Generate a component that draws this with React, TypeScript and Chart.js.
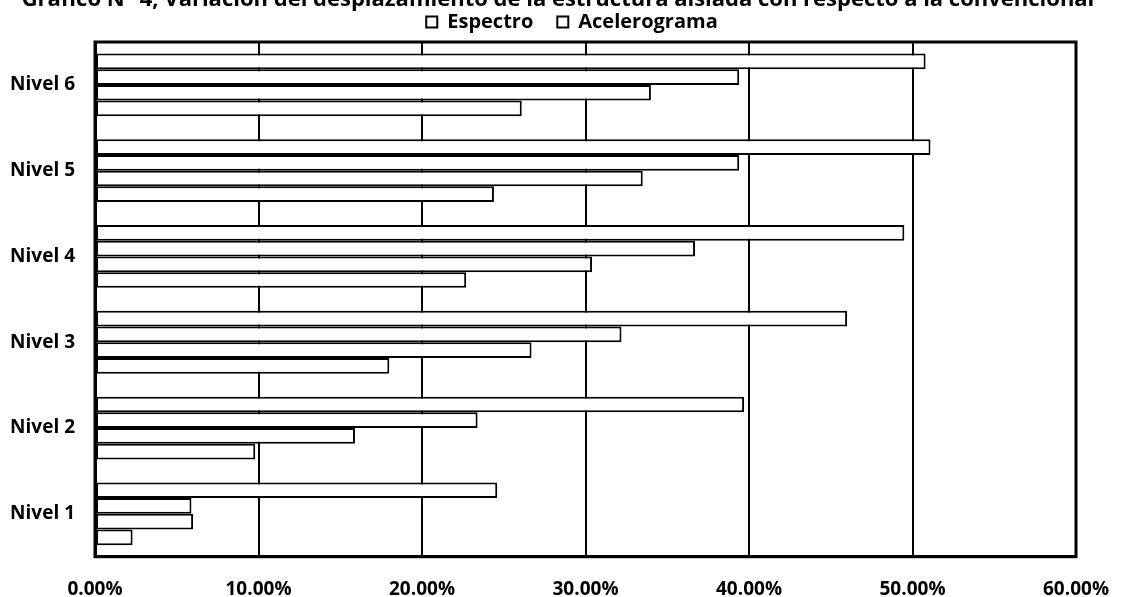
import React, { useEffect, useRef } from 'react';
import { Chart, registerables } from 'chart.js';

Chart.register(...registerables);

// ---- data ----
const TITLE =
  'Gráfico N° 4, Variación del desplazamiento de la estructura aislada con respecto a la convencional';
const categories = ['Nivel 1', 'Nivel 2', 'Nivel 3', 'Nivel 4', 'Nivel 5', 'Nivel 6'];
const xTicks = [0, 10, 20, 30, 40, 50, 60];
// values in %, one entry per level (Nivel 1 .. Nivel 6)
const espectro = [2.3, 9.8, 18.0, 22.7, 24.4, 26.1]; // bottom bar of each level
const acelerograma = [6.0, 15.9, 26.7, 30.4, 33.5, 34.0];
const serie3 = [5.9, 23.4, 32.2, 36.7, 39.4, 39.4];
const serie4 = [24.6, 39.7, 46.0, 49.5, 51.1, 50.8]; // top bar of each level

const FONT = '"Open Sans", "DejaVu Sans", sans-serif';

const titlePlugin = {
  id: 'cutTitle',
  afterDraw(chart: any) {
    const { ctx } = chart;
    ctx.save();
    ctx.fillStyle = '#000';
    ctx.font = `bold 22px ${FONT}`;
    ctx.textAlign = 'center';
    ctx.textBaseline = 'alphabetic';
    ctx.fillText(TITLE, 558, 6);
    ctx.restore();
  },
};

// legend is centred a little right of the page centre in the reference
const legendShift = {
  id: 'legendShift',
  afterLayout(chart: any) {
    const lg = chart.legend;
    if (lg) {
      lg.left += 34;
      lg.right += 34;
    }
  },
};

const framePlugin = {
  id: 'plotFrame',
  afterDatasetsDraw(chart: any) {
    const { ctx, chartArea: a } = chart;
    ctx.save();
    ctx.strokeStyle = '#000';
    ctx.lineWidth = 3;
    ctx.strokeRect(a.left, a.top, a.right - a.left, a.bottom - a.top);
    ctx.restore();
  },
};

export default function App() {
  const ref = useRef<HTMLCanvasElement | null>(null);

  useEffect(() => {
    if (!ref.current) return;
    Chart.defaults.font.family = FONT;
    // dataset 0 is drawn at the top of each category band
    const series = [
      { label: '', data: serie4 },
      { label: '', data: serie3 },
      { label: 'Acelerograma', data: acelerograma },
      { label: 'Espectro', data: espectro },
    ];
    const chart = new Chart(ref.current, {
      type: 'bar',
      data: {
        labels: categories,
        datasets: series.map((s) => ({
          label: s.label,
          data: s.data,
          backgroundColor: '#ffffff',
          borderColor: '#000000',
          borderWidth: 2,
          borderSkipped: false,
          categoryPercentage: 0.732,
          barPercentage: 1,
        })),
      },
      options: {
        indexAxis: 'y',
        animation: false,
        responsive: false,
        layout: { padding: { left: 0, right: 46, top: -12, bottom: 0 } },
        plugins: {
          title: { display: false },
          tooltip: { enabled: false },
          legend: {
            position: 'top',
            labels: {
              filter: (item: any) => item.text !== '',
              sort: (a: any, b: any) => b.datasetIndex - a.datasetIndex,
              boxWidth: 11,
              boxHeight: 11,
              padding: 24,
              color: '#000',
              font: { size: 20, weight: 'bold' },
            },
          },
        },
        scales: {
          x: {
            min: 0,
            max: 60,
            afterBuildTicks: (s: any) => {
              s.ticks = xTicks.map((v) => ({ value: v }));
            },
            ticks: {
              callback: (v: any) => Number(v).toFixed(2) + '%',
              color: '#000',
              font: { size: 19, weight: 'bold' },
              padding: 0,
              maxRotation: 0,
            },
            grid: {
              color: '#000',
              lineWidth: 2,
              drawTicks: true,
              tickLength: 21,
              tickColor: 'rgba(0,0,0,0)',
            },
            border: { display: true, color: '#000', width: 3 },
            afterFit: (s: any) => {
              s.height = 40.3;
            },
          },
          y: {
            reverse: true,
            ticks: { color: '#000', font: { size: 19, weight: 'bold' }, padding: 20 },
            grid: { display: false, drawTicks: false },
            border: { display: true, color: '#000', width: 3 },
            afterFit: (s: any) => {
              s.width = 95;
            },
          },
        },
      } as any,
      plugins: [titlePlugin, legendShift, framePlugin],
    });
    return () => chart.destroy();
  }, []);

  return (
    <div style={{ position: 'absolute', left: 0, top: 0, width: 1122, height: 597, background: '#fff' }}>
      <canvas ref={ref} width={1122} height={597} />
    </div>
  );
}
